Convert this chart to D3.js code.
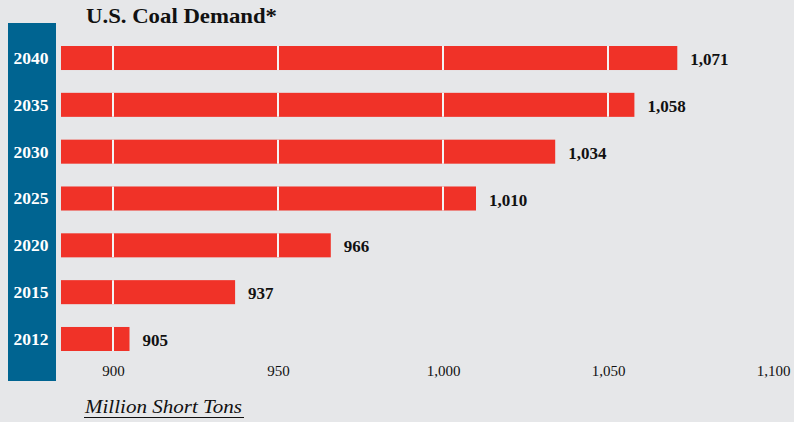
<!DOCTYPE html>
<html>
<head>
<meta charset="utf-8">
<script src="https://cdn.jsdelivr.net/npm/d3@7"></script>
<style>
  html, body { margin: 0; padding: 0; background: #e6e7e9; }
  svg { display: block; }
  text { font-family: "Liberation Serif", "DejaVu Serif", serif; }
</style>
</head>
<body>
<svg id="chart" width="794" height="422"></svg>
<script>
// U.S. coal demand, million short tons
const years = ["2040", "2035", "2030", "2025", "2020", "2015", "2012"];
const demand = [1071, 1058, 1034, 1010, 966, 937, 905];
const tickValues = [900, 950, 1000, 1050, 1100];
const gridValues = [900, 950, 1000, 1050];

const svg = d3.select("#chart");
const W = 794, H = 422;

svg.append("rect").attr("width", W).attr("height", H).attr("fill", "#e6e7e9");

// 900 sits at x=113, 1100 at x=773; bars start at the left plot edge
const x = d3.scaleLinear().domain([900, 1100]).range([113, 773]);
const xMin = x.invert(61);

const y = d3.scaleBand().domain(years).range([46, 351]).paddingInner(0.487).paddingOuter(0);

// blue year band
svg.append("rect")
  .attr("x", 8).attr("y", 23).attr("width", 48).attr("height", 358)
  .attr("fill", "#006491");

svg.append("g").selectAll("text").data(years).join("text")
  .attr("x", 31)
  .attr("y", d => y(d) + y.bandwidth() / 2)
  .attr("dy", "0.36em")
  .attr("text-anchor", "middle")
  .attr("fill", "#ffffff")
  .attr("font-weight", "bold")
  .attr("font-size", 16.5)
  .attr("textLength", 35)
  .attr("lengthAdjust", "spacingAndGlyphs")
  .text(d => d);

// bars
const rows = years.map((yr, i) => ({ year: yr, value: demand[i] }));

svg.append("g").selectAll("rect").data(rows).join("rect")
  .attr("x", x(xMin))
  .attr("y", d => y(d.year))
  .attr("width", d => x(d.value) - x(xMin))
  .attr("height", y.bandwidth())
  .attr("fill", "#f03228");

// white gridlines, visible only across the bars
const grid = svg.append("g");
rows.forEach(r => {
  grid.selectAll(null).data(gridValues.filter(v => v < r.value)).join("line")
    .attr("x1", v => x(v)).attr("x2", v => x(v))
    .attr("y1", y(r.year)).attr("y2", y(r.year) + y.bandwidth())
    .attr("stroke", "#f4f4f4")
    .attr("stroke-width", 2);
});

// value labels
svg.append("g").selectAll("text").data(rows).join("text")
  .attr("x", d => x(d.value) + 13)
  .attr("y", d => y(d.year) + y.bandwidth() / 2 + 1)
  .attr("dy", "0.36em")
  .attr("fill", "#111111")
  .attr("font-weight", "bold")
  .attr("font-size", 17)
  .text(d => d3.format(",")(d.value));

// x axis
const axis = svg.append("g")
  .attr("transform", "translate(0,355)")
  .call(d3.axisBottom(x).tickValues(tickValues).tickFormat(d3.format(",")).tickSize(0).tickPadding(10));
axis.select(".domain").remove();
axis.selectAll("text")
  .attr("font-family", "Liberation Serif, serif")
  .attr("font-size", 15)
  .attr("fill", "#111111");

// title
svg.append("text")
  .attr("x", 86).attr("y", 23)
  .attr("font-weight", "bold")
  .attr("font-size", 22)
  .attr("textLength", 191)
  .attr("lengthAdjust", "spacingAndGlyphs")
  .attr("fill", "#111111")
  .text("U.S. Coal Demand*");

// unit label
svg.append("text")
  .attr("x", 85).attr("y", 413)
  .attr("font-style", "italic")
  .attr("font-size", 19)
  .attr("textLength", 157)
  .attr("lengthAdjust", "spacingAndGlyphs")
  .attr("fill", "#111111")
  .text("Million Short Tons");
svg.append("line")
  .attr("x1", 84).attr("x2", 244)
  .attr("y1", 417.5).attr("y2", 417.5)
  .attr("stroke", "#111111").attr("stroke-width", 1);
</script>
</body>
</html>
